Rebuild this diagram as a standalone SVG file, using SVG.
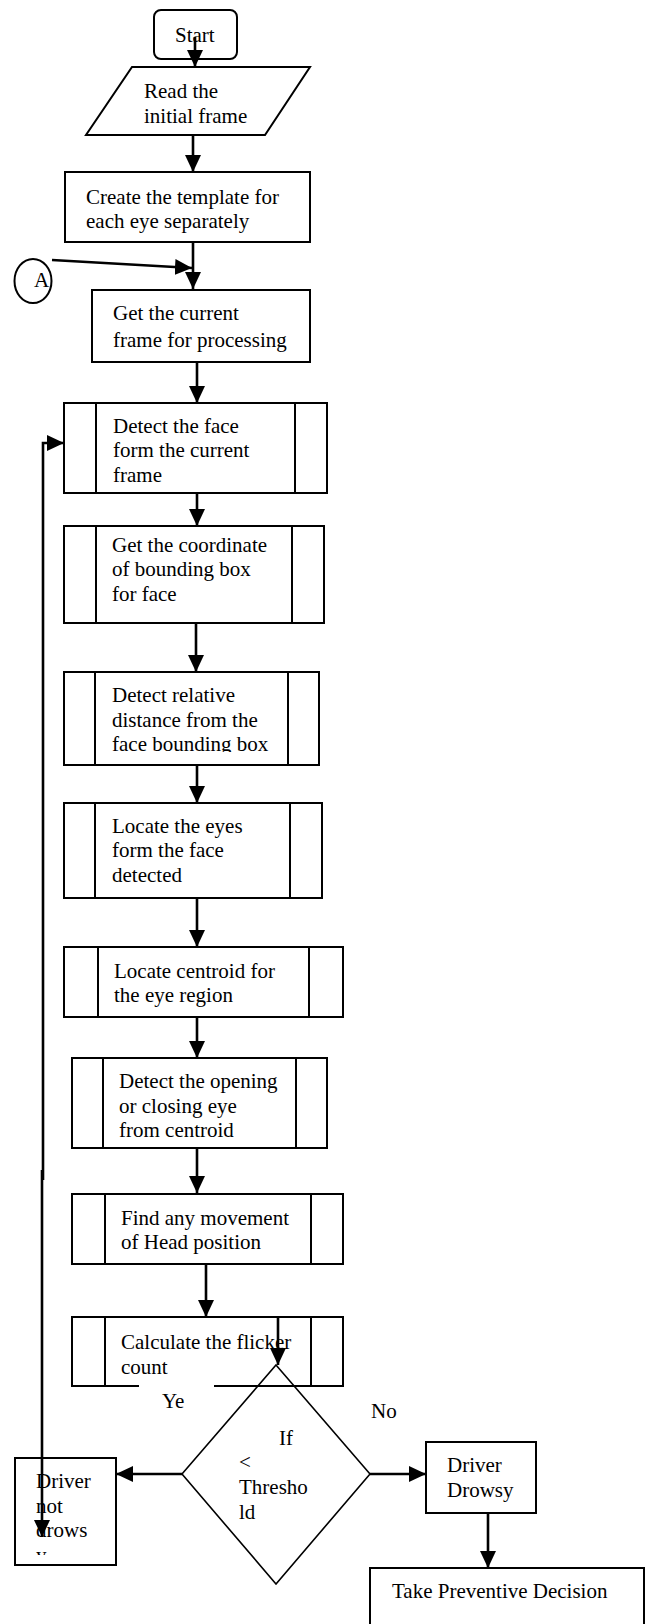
<svg xmlns="http://www.w3.org/2000/svg" width="646" height="1624" viewBox="0 0 646 1624">
<style>
.b{fill:none;stroke:#000;stroke-width:2}
.d{fill:none;stroke:#000;stroke-width:1.6}
.t{font-family:"Liberation Serif","Times New Roman",serif;font-size:21px;fill:#000}
.c{fill:none;stroke:#000;stroke-width:2.6}
</style>
<defs>
<marker id="ah" markerUnits="userSpaceOnUse" markerWidth="17" markerHeight="16" refX="17" refY="8" orient="auto"><path d="M0,0 L17,8 L0,16 z" fill="#000"/></marker>
<clipPath id="clip7"><rect x="64" y="672" width="255" height="80"/></clipPath>
<clipPath id="clip14"><rect x="15" y="1458" width="101" height="97"/></clipPath>
</defs>
<rect width="646" height="1624" fill="#fff"/>
<g id="start"><rect class="b" x="154" y="10" width="83" height="49" rx="7"/><text class="t" x="175" y="42">Start</text></g>
<g id="read"><polygon class="b" points="132,67 310,67 265,135 86,135"/><text class="t" x="144" y="98">Read the</text><text class="t" x="144" y="123">initial frame</text></g>
<g id="create"><rect class="b" x="65" y="172" width="245" height="70"/><text class="t" x="86" y="204">Create the template for</text><text class="t" x="86" y="228">each eye separately</text></g>
<g id="connA"><ellipse class="b" cx="33" cy="281" rx="18.5" ry="22"/><text class="t" x="34" y="287">A</text></g>
<g id="current"><rect class="b" x="92" y="290" width="218" height="72"/><text class="t" x="113" y="320">Get the current</text><text class="t" x="113" y="347">frame for processing</text></g>
<g id="face"><rect class="b" x="64" y="403" width="263" height="90"/><line class="b" x1="96" y1="403" x2="96" y2="493"/><line class="b" x1="295" y1="403" x2="295" y2="493"/><text class="t" x="113" y="433">Detect the face</text><text class="t" x="113" y="457">form the current</text><text class="t" x="113" y="482">frame</text></g>
<g id="coord"><rect class="b" x="64" y="526" width="260" height="97"/><line class="b" x1="96" y1="526" x2="96" y2="623"/><line class="b" x1="292" y1="526" x2="292" y2="623"/><text class="t" x="112" y="552">Get the coordinate</text><text class="t" x="112" y="576">of bounding box</text><text class="t" x="112" y="601">for face</text></g>
<g id="relative"><rect class="b" x="64" y="672" width="255" height="93"/><line class="b" x1="95" y1="672" x2="95" y2="765"/><line class="b" x1="288" y1="672" x2="288" y2="765"/><g clip-path="url(#clip7)"><text class="t" x="112" y="702">Detect relative</text><text class="t" x="112" y="727">distance from the</text><text class="t" x="112" y="751">face bounding box</text></g></g>
<g id="eyes"><rect class="b" x="64" y="803" width="258" height="95"/><line class="b" x1="95" y1="803" x2="95" y2="898"/><line class="b" x1="290" y1="803" x2="290" y2="898"/><text class="t" x="112" y="833">Locate the eyes</text><text class="t" x="112" y="857">form the face</text><text class="t" x="112" y="882">detected</text></g>
<g id="centroid"><rect class="b" x="64" y="947" width="279" height="70"/><line class="b" x1="98" y1="947" x2="98" y2="1017"/><line class="b" x1="309" y1="947" x2="309" y2="1017"/><text class="t" x="114" y="978">Locate centroid for</text><text class="t" x="114" y="1002">the eye region</text></g>
<g id="opening"><rect class="b" x="72" y="1058" width="255" height="90"/><line class="b" x1="103" y1="1058" x2="103" y2="1148"/><line class="b" x1="296" y1="1058" x2="296" y2="1148"/><text class="t" x="119" y="1088">Detect the opening</text><text class="t" x="119" y="1113">or closing eye</text><text class="t" x="119" y="1137">from centroid</text></g>
<g id="head"><rect class="b" x="72" y="1194" width="271" height="70"/><line class="b" x1="105" y1="1194" x2="105" y2="1264"/><line class="b" x1="311" y1="1194" x2="311" y2="1264"/><text class="t" x="121" y="1225">Find any movement</text><text class="t" x="121" y="1249">of Head position</text></g>
<g id="flicker"><rect class="b" x="72" y="1317" width="271" height="69"/><line class="b" x1="105" y1="1317" x2="105" y2="1386"/><line class="b" x1="311" y1="1317" x2="311" y2="1386"/><text class="t" x="121" y="1349">Calculate the flicker</text><text class="t" x="121" y="1374">count</text></g>
<rect x="139" y="1383" width="75" height="7" fill="#fff"/>
<g id="decision"><polygon class="d" points="276,1365 370,1474 276,1584 182,1474"/><text class="t" x="279" y="1445">If</text><text class="t" x="239" y="1469">&lt;</text><text class="t" x="239" y="1494">Thresho</text><text class="t" x="239" y="1519">ld</text></g>
<g id="notdrowsy"><rect class="b" x="15" y="1458" width="101" height="107"/><g clip-path="url(#clip14)"><text class="t" x="36" y="1488">Driver</text><text class="t" x="36" y="1513">not</text><text class="t" x="36" y="1537">drows</text><text class="t" x="36" y="1562">y</text></g></g>
<g id="drowsy"><rect class="b" x="426" y="1442" width="110" height="71"/><text class="t" x="447" y="1472">Driver</text><text class="t" x="447" y="1497">Drowsy</text></g>
<g id="preventive"><rect class="b" x="370" y="1568" width="274" height="80"/><text class="t" x="392" y="1598">Take Preventive Decision</text></g>
<g id="labels"><text class="t" x="162" y="1408">Ye</text><text class="t" x="371" y="1418">No</text></g>
<g id="connectors">
<line class="c" x1="195" y1="37" x2="195" y2="67" marker-end="url(#ah)"/>
<line class="c" x1="193" y1="135" x2="193" y2="172" marker-end="url(#ah)"/>
<line class="c" x1="193" y1="242" x2="193" y2="289" marker-end="url(#ah)"/>
<line class="c" x1="52" y1="260" x2="192" y2="268" marker-end="url(#ah)"/>
<line class="c" x1="197" y1="362" x2="197" y2="403" marker-end="url(#ah)"/>
<line class="c" x1="197" y1="493" x2="197" y2="526" marker-end="url(#ah)"/>
<line class="c" x1="196" y1="623" x2="196" y2="672" marker-end="url(#ah)"/>
<line class="c" x1="197" y1="765" x2="197" y2="803" marker-end="url(#ah)"/>
<line class="c" x1="197" y1="898" x2="197" y2="947" marker-end="url(#ah)"/>
<line class="c" x1="197" y1="1017" x2="197" y2="1058" marker-end="url(#ah)"/>
<line class="c" x1="197" y1="1148" x2="197" y2="1193" marker-end="url(#ah)"/>
<line class="c" x1="206" y1="1264" x2="206" y2="1317" marker-end="url(#ah)"/>
<line class="c" x1="278" y1="1317" x2="278" y2="1365" marker-end="url(#ah)"/>
<line class="c" x1="182" y1="1474" x2="116" y2="1474" marker-end="url(#ah)"/>
<line class="c" x1="370" y1="1474" x2="426" y2="1474" marker-end="url(#ah)"/>
<line class="c" x1="488" y1="1513" x2="488" y2="1568" marker-end="url(#ah)"/>
<polyline class="c" points="43,1180 43,443 64,443" marker-end="url(#ah)"/>
<line class="c" x1="42" y1="1170" x2="42" y2="1537" marker-end="url(#ah)"/>
</g>
</svg>
